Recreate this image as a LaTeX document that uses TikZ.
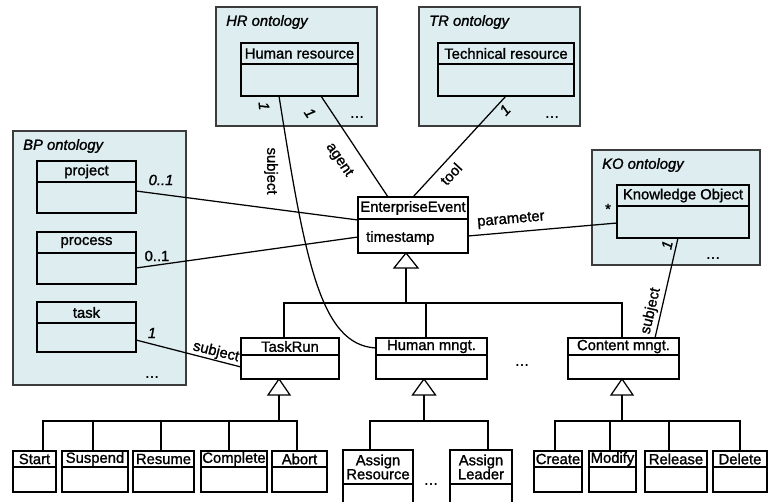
\documentclass[tikz,border=0pt]{standalone}
\usepackage{fontspec}
\setmainfont{Liberation Sans}[FakeBold=1.3]
\usetikzlibrary{calc}
\definecolor{ontofill}{RGB}{221,237,240}
\definecolor{ontoline}{RGB}{60,60,60}
\newcommand{\fsz}{\fontsize{14.8}{14}\selectfont}
% name x1 y1 x2 y2 ydiv text
\newcommand{\umlbox}[7]{%
  \node[clsbox, minimum width={#4-#2}, minimum height={#5-#3}] (#1) at ({(#2+#4)/2},{(#3+#5)/2}) {};
  \draw[divline] (#2,#6) -- (#4,#6);
  \node[clstext] (#1-t) at ({(#2+#4)/2},{(#3+#6)/2}) {#7};
}
% name x1 y1 x2 y2 title
\newcommand{\ontobox}[6]{%
  \node[onto, minimum width={#4-#2}, minimum height={#5-#3}] (#1) at ({(#2+#4)/2},{(#3+#5)/2}) {};
  \node[ilbl, anchor=west] (#1-title) at ({#2+10},{#3+15}) {#6};
}
\begin{document}
\begin{tikzpicture}[x=1pt,y=-1pt,
  onto/.style={draw=ontoline, fill=ontofill, line width=1.4pt, inner sep=0pt, outer sep=0pt},
  clsbox/.style={draw=black, line width=1.9pt, inner sep=0pt, outer sep=0pt},
  divline/.style={draw=black, line width=1.9pt},
  clstext/.style={inner sep=0pt, font=\fsz, align=center},
  conn/.style={draw=black, line width=1.25pt},
  lbl/.style={inner sep=0pt, font=\fsz},
  ilbl/.style={inner sep=0pt, font=\fsz\itshape},
  gen/.style={draw=black, line width=1.25pt, fill=white}]
\useasboundingbox (0,0) rectangle (768,501);

% ontology containers
\ontobox{hrOnt}{216}{7}{377}{126}{HR ontology}
\ontobox{trOnt}{419}{7}{580}{126}{TR ontology}
\ontobox{bpOnt}{13}{131}{186}{385}{BP ontology}
\ontobox{koOnt}{592}{150}{760}{265}{KO ontology}

% classes
\umlbox{humanres}{241}{43}{358}{96}{64}{Human resource}
\umlbox{techres}{438}{43}{574}{96}{64}{Technical resource}
\umlbox{project}{37}{161}{136}{213}{182}{project}
\umlbox{process}{37}{232}{136}{284}{253}{process}
\umlbox{task}{37}{302}{136}{352}{323}{task}
\umlbox{ee}{358}{197}{468}{253}{219}{EnterpriseEvent}
\node[lbl, anchor=west] (eeattr) at (366,238) {timestamp};
\umlbox{ko}{617}{185}{749}{238}{206}{Knowledge Object}
\umlbox{taskrun}{241}{338}{339}{379}{355}{TaskRun}
\umlbox{humanmngt}{376}{338}{487}{379}{355}{Human mngt.}
\umlbox{contentmngt}{568}{338}{679}{379}{355}{Content mngt.}
\umlbox{start}{13}{451}{56}{492}{467}{Start}
\umlbox{suspend}{62}{451}{128}{492}{467}{Suspend}
\umlbox{resume}{133}{451}{194}{492}{467}{Resume}
\umlbox{complete}{201}{451}{267}{492}{467}{Complete}
\umlbox{abort}{272}{451}{327}{492}{467}{Abort}
\umlbox{assignres}{343}{450}{413}{515}{484}{Assign\\Resource}
\umlbox{assignlead}{450}{450}{512}{515}{484}{Assign\\Leader}
\umlbox{create}{534}{451}{582}{492}{467}{Create}
\umlbox{modify}{589}{451}{636}{492}{467}{Modify}
\umlbox{release}{645}{451}{707}{492}{467}{Release}
\umlbox{delete}{713}{451}{767}{492}{467}{Delete}

% ellipses
\node[lbl] (dotsHR) at (357,117) {\dots};
\node[lbl] (dotsTR) at (552,117) {\dots};
\node[lbl] (dotsBP) at (152,377) {\dots};
\node[lbl] (dotsKO) at (713,258) {\dots};
\node[lbl] (dotsMid) at (522,365) {\dots};
\node[lbl] (dotsAssign) at (431,484) {\dots};

% generalization: EnterpriseEvent
\coordinate (eeTip) at ([xshift=-7]ee.south);
\draw[gen] (eeTip) -- ++(-12,15) -- ++(24,0) -- cycle;
\draw[conn] ($(eeTip)+(0,15)$) -- ($(eeTip)+(0,50)$);
\draw[conn] ([xshift=-6]taskrun.north) -- ++(0,-35) -| ([xshift=-1.5]contentmngt.north);
\draw[conn] ([xshift=-5.5]humanmngt.north) -- ++(0,-35);

% generalization: TaskRun
\coordinate (trTip) at ([xshift=-11]taskrun.south);
\draw[gen] (trTip) -- ++(-11,16) -- ++(22,0) -- cycle;
\draw[conn] ($(trTip)+(0,16)$) -- ($(trTip)+(0,42)$);
\draw[conn] ([xshift=8.5]start.north) -- ++(0,-30) -| ([xshift=-2.5]abort.north);
\draw[conn] ([xshift=-2]suspend.north) -- ++(0,-30);
\draw[conn] ([xshift=-2.5]resume.north) -- ++(0,-30);
\draw[conn] ([xshift=-5]complete.north) -- ++(0,-30);

% generalization: Human mngt.
\coordinate (hmTip) at ([xshift=-7.5]humanmngt.south);
\draw[gen] (hmTip) -- ++(-11.5,16) -- ++(23,0) -- cycle;
\draw[conn] ($(hmTip)+(0,16)$) -- ($(hmTip)+(0,42)$);
\draw[conn] ([xshift=-8]assignres.north) -- ++(0,-29) -| ([xshift=7]assignlead.north);

% generalization: Content mngt.
\coordinate (cmTip) at ([xshift=-1.5]contentmngt.south);
\draw[gen] (cmTip) -- ++(-11,16) -- ++(22,0) -- cycle;
\draw[conn] ($(cmTip)+(0,16)$) -- ($(cmTip)+(0,42)$);
\draw[conn] ([xshift=-3]create.north) -- ++(0,-30) -| ([xshift=0]delete.north);
\draw[conn] ([xshift=-2.5]modify.north) -- ++(0,-30);
\draw[conn] ([xshift=-7]release.north) -- ++(0,-30);

% associations
\draw[conn] ([yshift=-4]project.east) -- ([yshift=5]ee.west);
\node[ilbl] (m1) at (161,180) {0..1};
\draw[conn] ([yshift=-10]process.east) -- ([yshift=-12]ee.west);
\node[lbl] (m2) at (157,256) {0..1};
\draw[conn] ([yshift=-13]task.east) -- ([yshift=-8.5]taskrun.west);
\node[ilbl] (m3) at (152,333) {1};
\node[lbl, rotate=-14] (l3) at (216,352) {subject};

\draw[conn] ([xshift=-20.5]humanres.south) .. controls (305,260) and (320,345) .. ([yshift=10.5]humanmngt.west);
\node[ilbl, rotate=-85] (m4) at (264,106) {1};
\node[lbl, rotate=-90] (l4) at (271,171) {subject};

\draw[conn] ([xshift=21.5]humanres.south) -- ([xshift=-25]ee.north);
\node[ilbl, rotate=-56] (m5) at (310,113) {1};
\node[lbl, rotate=-56] (l5) at (339,160) {agent};

\draw[conn] (techres.south) -- (ee.north);
\node[ilbl, rotate=47] (m6) at (505,110) {1};
\node[lbl, rotate=47] (l6) at (451,174) {tool};

\draw[conn] ([yshift=-11]ee.east) -- ([yshift=-11.5]ko.west);
\node[lbl, rotate=5] (l7) at (511,220) {parameter};
\node[lbl] (m7) at (608,209) {*};

\draw[conn] ([xshift=-5]ko.south) -- ([xshift=31.5]contentmngt.north);
\node[ilbl, rotate=77] (m8) at (667,245) {1};
\node[lbl, rotate=77] (l8) at (651,311) {subject};
\end{tikzpicture}
\end{document}
